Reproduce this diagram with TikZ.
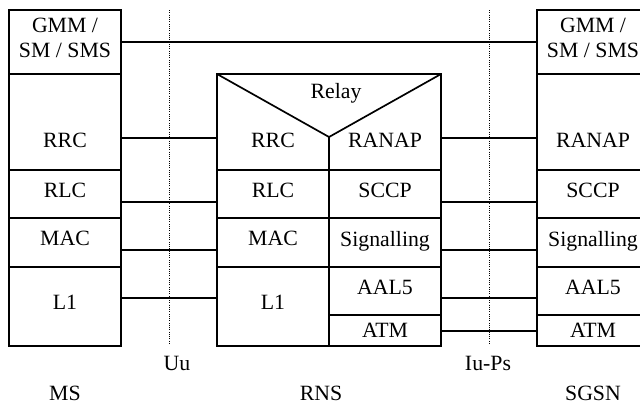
\documentclass[tikz,border=0pt]{standalone}
\usepackage{fontspec}
\setmainfont{Liberation Serif}
\usepackage{tikz}
\usetikzlibrary{positioning,calc}

\begin{document}
\begin{tikzpicture}[
        x=0.025cm, y=-0.025cm,
        % --- layer boxes ---
        layer/.style={
            rectangle,
            draw,
            line width=1.2pt,
            inner sep=0pt,
            outer sep=0pt,
            minimum width=2.8cm,
            text depth=0.2cm,
            align=center,
            font=\fontsize{15.5}{18}\selectfont
        },
        % plain text
        txt/.style={inner sep=0pt, font=\fontsize{15.5}{18}\selectfont},
        % peer links
        link/.style={draw, line width=0.8pt},
        % interfaces
        iface/.style={draw, line width=0.6pt, densely dotted}
    ]
        \useasboundingbox (0,0) rectangle (640,403);

        % --- MS ---
        \node[layer, minimum height=1.6cm, anchor=north west] (msgmm) at (9,10) {GMM /\\SM / SMS};
        \node[layer, minimum height=2.4cm, below=0pt of msgmm,
              label={[txt, yshift=-0.45cm]center:RRC}] (msrrc) {};
        \node[layer, minimum height=1.2cm, below=0pt of msrrc] (msrlc) {RLC};
        \node[layer, minimum height=1.225cm, below=0pt of msrlc] (msmac) {MAC};
        \node[layer, minimum height=1.975cm, below=0pt of msmac] (msl1) {L1};

        % --- RNS ---
        \node[layer, minimum width=5.6cm, minimum height=2.4cm, anchor=north west] (rnsrelay) at (217,74) {};
        \node[txt] (relay) at (336,93) {Relay};
        \node[layer, minimum height=1.2cm, anchor=north west] (rnsrlc) at (rnsrelay.south west) {RLC};
        \node[layer, minimum height=1.225cm, below=0pt of rnsrlc] (rnsmac) {MAC};
        \node[layer, minimum height=1.975cm, below=0pt of rnsmac] (rnsl1) {L1};
        \node[layer, minimum height=1.2cm, anchor=north east] (rnssccp) at (rnsrelay.south east) {SCCP};
        \node[layer, minimum height=1.225cm, below=0pt of rnssccp] (rnssig) {Signalling};
        \node[layer, minimum height=1.2cm, below=0pt of rnssig] (rnsaal) {AAL5};
        \node[layer, minimum height=0.775cm, text depth=0pt, below=0pt of rnsaal] (rnsatm) {ATM};
        \node[txt] (rnsrrc) at ($(rnsrlc.north)+(0,-30)$) {RRC};
        \node[txt] (rnsranap) at ($(rnssccp.north)+(0,-30)$) {RANAP};
        \coordinate (apex) at ($(rnsrelay.north)+(0,63)$);
        \draw[line width=1.2pt] (rnsrelay.north west) -- (apex) -- (rnsrelay.north east);
        \draw[line width=1.2pt] (apex) -- (rnsrelay.south);

        % --- SGSN ---
        \node[layer, minimum height=1.6cm, anchor=north west] (sggmm) at (537,10) {GMM /\\SM / SMS};
        \node[layer, minimum height=2.4cm, below=0pt of sggmm,
              label={[txt, yshift=-0.45cm]center:RANAP}] (sgranap) {};
        \node[layer, minimum height=1.2cm, below=0pt of sgranap] (sgsccp) {SCCP};
        \node[layer, minimum height=1.225cm, below=0pt of sgsccp] (sgsig) {Signalling};
        \node[layer, minimum height=1.2cm, below=0pt of sgsig] (sgaal) {AAL5};
        \node[layer, minimum height=0.775cm, text depth=0pt, below=0pt of sgaal] (sgatm) {ATM};

        % --- peer links ---
        \foreach \a/\b/\lv in {msgmm/sggmm/42, msrrc/rnsrelay/138, msrlc/rnsrlc/202,
                               msmac/rnsmac/250, msl1/rnsl1/298,
                               rnsrelay/sgranap/138, rnssccp/sgsccp/202, rnssig/sgsig/250,
                               rnsaal/sgaal/298, rnsatm/sgatm/331} {
            \draw[link] (\a.east |- 0,\lv) -- (\b.west |- 0,\lv);
        }

        % --- interfaces ---
        \coordinate (uutop) at (169,10);
        \coordinate (uubot) at (169,344);
        \coordinate (iutop) at (489,10);
        \coordinate (iubot) at (489,344);
        \draw[iface] (uutop) -- (uubot);
        \draw[iface] (iutop) -- (iubot);
        \node[txt] (uu) at (177,363) {Uu};
        \node[txt] (iups) at (488,363) {Iu-Ps};

        % --- entities ---
        \node[txt, anchor=base] (ms) at (65,400) {MS};
        \node[txt, anchor=base] (rns) at (321,400) {RNS};
        \node[txt, anchor=base] (sgsn) at (593,400) {SGSN};

    \end{tikzpicture}
\end{document}
